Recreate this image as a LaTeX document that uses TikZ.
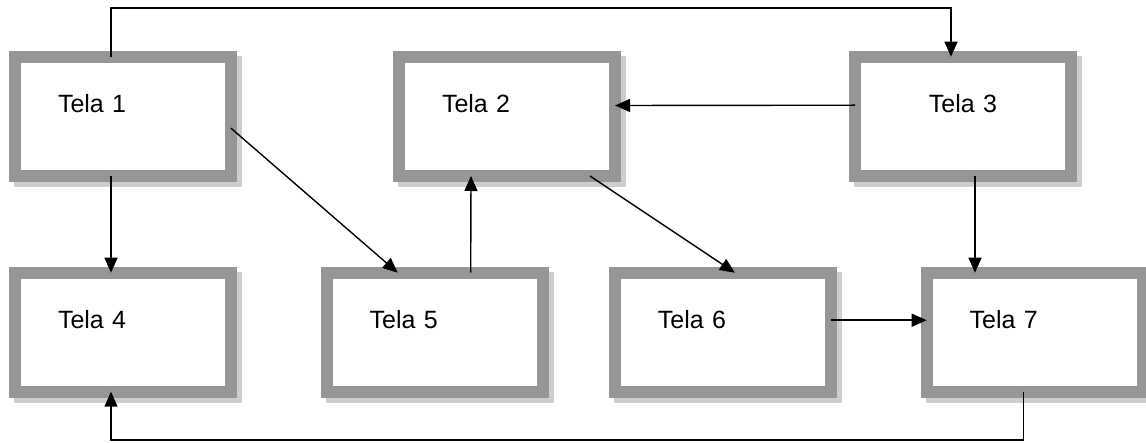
\documentclass[tikz,border=0pt]{standalone}
\usepackage{fontspec}
\setmainfont{Liberation Sans}
\usetikzlibrary{arrows.meta}
\definecolor{framegray}{RGB}{150,150,150}
\definecolor{shadegray}{RGB}{205,205,205}
\begin{document}
\begin{tikzpicture}[x=1pt,y=-1pt,
    tela/.style={draw=framegray,fill=white,line width=12pt,outer sep=0pt,
        inner xsep=43pt,inner ysep=0pt,text width=130pt,align=left,
        text height=56pt,text depth=63pt,font=\fontsize{25}{30}\selectfont,
        preaction={draw=shadegray,line width=12pt,
            transform canvas={shift={(5pt,-5pt)}}}},
    link/.style={line width=1.4pt,-{Triangle[length=15pt,width=13pt]}}]
\useasboundingbox (0,0) rectangle (1146,443);
\coordinate (c1) at (123.0,116.2);
\coordinate (c2) at (507.0,116.5);
\coordinate (c3) at (963.0,116.2);
\coordinate (c4) at (123.0,332.2);
\coordinate (c5) at (434.7,332.2);
\coordinate (c6) at (722.9,332.2);
\coordinate (c7) at (1034.7,332.2);
\coordinate (up) at (500.0,8.0);
\coordinate (down) at (500.0,440.0);
\node [tela] (t1) at (c1) {Tela 1};
\node [tela] (t2) at (c2) {Tela 2};
\node [tela,align=center] (t3) at (c3) {Tela 3};
\node [tela] (t4) at (c4) {Tela 4};
\node [tela] (t5) at (c5) {Tela 5};
\node [tela] (t6) at (c6) {Tela 6};
\node [tela] (t7) at (c7) {Tela 7};
\draw [link] ([xshift=-12pt]t1.north) |- (up) -| ([xshift=-12pt]t3.north);
\draw [link] ([yshift=11pt]t3.west) -- ([yshift=11pt]t2.east);
\draw [link] ([xshift=-12pt]t1.south) -- ([xshift=-12pt]t4.north);
\draw [link] ([yshift=-12pt]t1.east) -- ([xshift=-37pt]t5.north);
\draw [link] ([xshift=36pt]t5.north) -- ([xshift=-36pt]t2.south);
\draw [link] ([xshift=83pt]t2.south) -- ([xshift=12pt]t6.north);
\draw [link] ([yshift=12pt]t6.east) -- ([yshift=12pt]t7.west);
\draw [link] ([xshift=12pt]t3.south)
    -- ([xshift=12pt]t3.south |- t7.north);
\draw [link] ([xshift=-11pt]t7.south) |- (down) -| ([xshift=-12pt]t4.south);
\end{tikzpicture}
\end{document}
